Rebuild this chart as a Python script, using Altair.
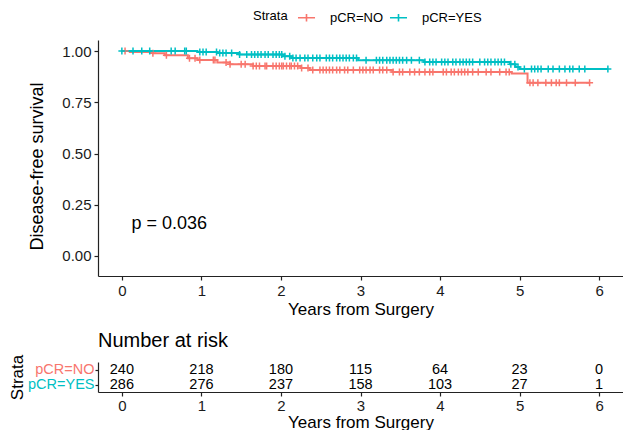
import altair as alt
import numpy as np
import pandas as pd

# ---------------- data ----------------
strata = ["pCR=NO", "pCR=YES"]
colors = ["#F8766D", "#00BFC4"]
year_ticks = [0, 1, 2, 3, 4, 5, 6]
surv_ticks = [0.0, 0.25, 0.5, 0.75, 1.0]

# Kaplan-Meier step curves (time in years, survival)
no_step_t = [0.0, 0.10, 0.39, 0.54, 0.83, 0.95, 1.20, 1.36, 1.65, 2.25, 2.36, 3.40, 4.90, 5.10]
no_step_s = [1.0, 0.995, 0.989, 0.979, 0.965, 0.956, 0.944, 0.935, 0.927, 0.917, 0.907, 0.897, 0.890, 0.845]
no_end = 5.88

yes_step_t = [0.0, 0.95, 1.20, 1.48, 2.03, 2.13, 2.97, 3.80, 4.88, 4.95, 5.00]
yes_step_s = [1.0, 0.995, 0.990, 0.983, 0.975, 0.966, 0.955, 0.946, 0.935, 0.922, 0.912]
yes_end = 6.11

# censoring times
no_censor = [0.04, 0.39, 0.56, 0.85, 0.92, 0.98, 1.15, 1.17, 1.31, 1.36, 1.50, 1.55,
             1.65, 1.69, 1.73, 1.80, 1.82, 1.90, 1.94, 1.98, 2.01, 2.03, 2.07, 2.11,
             2.13, 2.17, 2.21, 2.26, 2.34, 2.40, 2.49, 2.53, 2.57, 2.61, 2.65, 2.70,
             2.74, 2.80, 2.84, 2.91, 2.99, 3.03, 3.07, 3.12, 3.16, 3.24, 3.28, 3.33,
             3.41, 3.49, 3.53, 3.62, 3.68, 3.74, 3.81, 3.87, 3.91, 4.04, 4.08, 4.14,
             4.18, 4.23, 4.27, 4.31, 4.35, 4.41, 4.48, 4.58, 4.64, 4.75, 4.83, 4.87,
             5.13, 5.17, 5.23, 5.33, 5.40, 5.46, 5.50, 5.59, 5.70, 5.88]
yes_censor = [0.0, 0.14, 0.25, 0.35, 0.62, 0.67, 0.79, 0.81, 0.98, 1.02, 1.06, 1.19,
              1.23, 1.27, 1.31, 1.38, 1.48, 1.57, 1.63, 1.67, 1.71, 1.75, 1.80, 1.84,
              1.90, 1.94, 1.98, 2.01, 2.05, 2.11, 2.15, 2.19, 2.24, 2.30, 2.34, 2.40,
              2.45, 2.49, 2.57, 2.61, 2.65, 2.70, 2.74, 2.78, 2.82, 2.86, 2.91, 2.95,
              3.07, 3.20, 3.24, 3.28, 3.33, 3.37, 3.41, 3.45, 3.49, 3.53, 3.58, 3.64,
              3.74, 3.81, 3.87, 3.91, 3.95, 4.02, 4.06, 4.10, 4.16, 4.20, 4.25, 4.29,
              4.33, 4.37, 4.41, 4.50, 4.56, 4.60, 4.64, 4.69, 4.73, 4.77, 4.81, 4.89,
              4.94, 4.98, 5.06, 5.15, 5.19, 5.23, 5.27, 5.36, 5.42, 5.50, 5.57, 5.63,
              5.67, 5.75, 5.82, 6.11]

# number at risk
risk_no = [240, 218, 180, 115, 64, 23, 0]
risk_yes = [286, 276, 237, 158, 103, 27, 1]

p_label = "p = 0.036"
p_pos = (0.12, 0.156)

# ---------------- build tables ----------------
def curve_rows(name, ts, ss, end):
    rows = [{"strata": name, "t": t, "s": s} for t, s in zip(ts, ss)]
    rows.append({"strata": name, "t": end, "s": ss[-1]})
    return rows

def censor_rows(name, ts, ss, cs):
    arr = np.array(ts)
    out = []
    for c in cs:
        i = int(np.searchsorted(arr, c, side="right")) - 1
        out.append({"strata": name, "t": c, "s": ss[i]})
    return out

curve_df = pd.DataFrame(curve_rows(strata[0], no_step_t, no_step_s, no_end)
                        + curve_rows(strata[1], yes_step_t, yes_step_s, yes_end))
censor_df = pd.DataFrame(censor_rows(strata[0], no_step_t, no_step_s, no_censor)
                         + censor_rows(strata[1], yes_step_t, yes_step_s, yes_censor))
risk_df = pd.DataFrame(
    [{"strata": strata[0], "t": t, "n": n} for t, n in zip(year_ticks, risk_no)]
    + [{"strata": strata[1], "t": t, "n": n} for t, n in zip(year_ticks, risk_yes)]
)
p_df = pd.DataFrame([{"t": p_pos[0], "s": p_pos[1], "label": p_label}])

# ---------------- chart ----------------
W = 525
H = 236

x_scale = alt.Scale(domain=[-0.3, 6.3], nice=False, zero=False)
y_scale = alt.Scale(domain=[-0.0976, 1.0537], nice=False, zero=False)
color_scale = alt.Scale(domain=strata, range=colors)

legend = alt.Legend(
    orient="none", legendX=155, legendY=-32, direction="horizontal",
    title="Strata", titleOrient="left", titleFontSize=13, titleFontWeight="normal",
    titleColor="black", titlePadding=9,
    symbolType="M-1,0L1,0M0,-0.45L0,0.45", symbolSize=290, symbolStrokeWidth=1.6,
    labelFontSize=13, labelColor="black", labelOffset=14, columnPadding=2,
)

x_axis_top = alt.Axis(values=year_ticks, format="d", title="Years from Surgery",
                      grid=False, labelFlush=False, labelPadding=3, titlePadding=3)
y_axis_top = alt.Axis(values=surv_ticks, format=".2f", title="Disease-free survival",
                      grid=False, titlePadding=15, titleFontSize=18, titleY=126)

x_enc = alt.X("t:Q", scale=x_scale, axis=x_axis_top)
y_enc = alt.Y("s:Q", scale=y_scale, axis=y_axis_top)
c_enc = alt.Color("strata:N", scale=color_scale, legend=legend)

lines = alt.Chart(curve_df).mark_line(interpolate="step-after", strokeWidth=2).encode(
    x=x_enc, y=y_enc, color=c_enc
)
marks = alt.Chart(censor_df).mark_point(
    shape="M-1,0L1,0M0,-1L0,1", size=49, strokeWidth=1.5, filled=False, opacity=1
).encode(x=x_enc, y=y_enc, color=c_enc)
ptext = alt.Chart(p_df).mark_text(align="left", baseline="middle", fontSize=18,
                                  color="black").encode(
    x=alt.X("t:Q", scale=x_scale), y=alt.Y("s:Q", scale=y_scale), text="label:N"
)

top = alt.layer(lines, marks, ptext).properties(width=W, height=H)

risk = alt.Chart(risk_df).mark_text(fontSize=14.5, color="black", baseline="middle").encode(
    x=alt.X("t:Q", scale=x_scale,
            axis=alt.Axis(values=year_ticks, format="d", title="Years from Surgery",
                          grid=False, labelFlush=False, labelPadding=2, titlePadding=1)),
    y=alt.Y("strata:N", scale=alt.Scale(type="point", domain=strata, padding=0.5),
            axis=alt.Axis(title="Strata", titlePadding=1, labelPadding=1, tickSize=3,
                          labelFontSize=14.5,
                          labelColor=alt.condition("datum.value == 'pCR=NO'",
                                                   alt.value(colors[0]),
                                                   alt.value(colors[1])))),
    text="n:Q",
).properties(
    width=W, height=30,
    title=alt.TitleParams("Number at risk", anchor="start", frame="group", fontSize=20,
                          fontWeight="normal", color="black", offset=3),
)

chart = alt.vconcat(top, risk, spacing=14).properties(
    padding=0, background="white"
).configure(font="Liberation Sans").configure_view(stroke=None).configure_axis(
    domainColor="#222222", tickColor="#222222", domainWidth=1.2, tickWidth=1.2,
    labelColor="#1a1a1a", labelFontSize=15, titleFontSize=17, titleFontWeight="normal",
    titleColor="black", tickSize=4, labelPadding=3, titlePadding=3,
)

chart.save("out.html", embed_options={"renderer": "svg", "actions": False})
